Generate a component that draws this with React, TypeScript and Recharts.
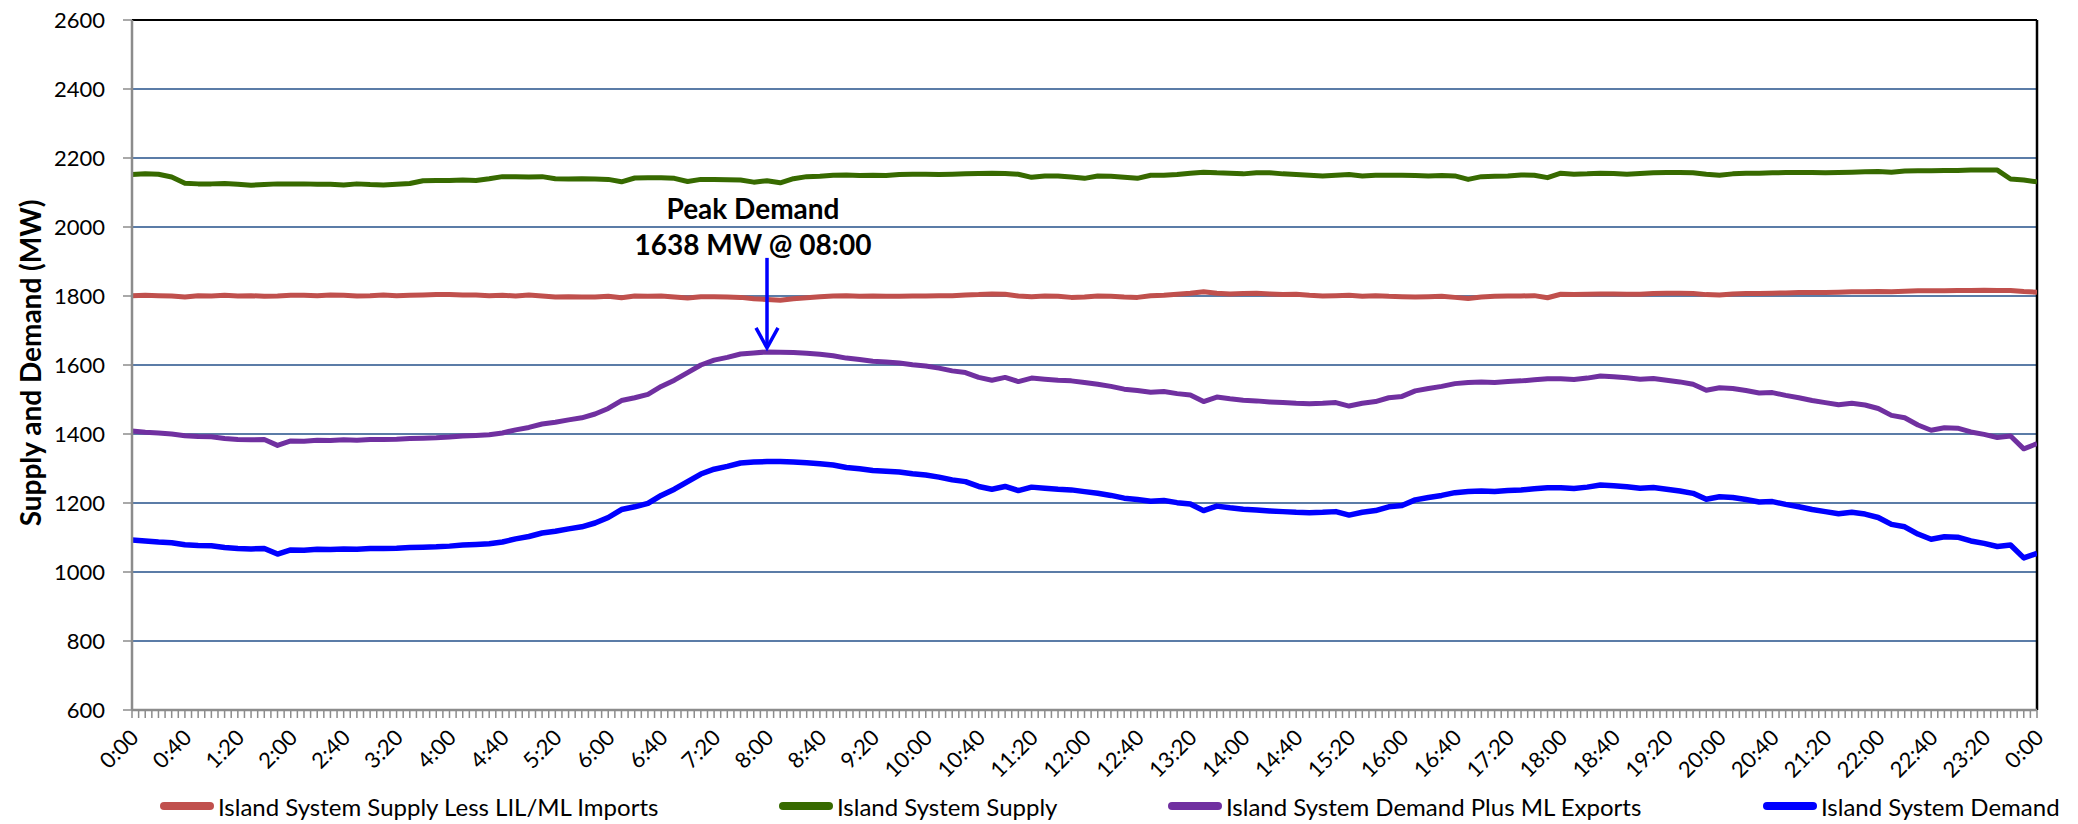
import React from 'react';
import {
  LineChart,
  Line,
  XAxis,
  YAxis,
  CartesianGrid,
  Legend,
  ReferenceLine,
  ReferenceDot,
} from 'recharts';

// ---------------- DATA ----------------
const times = [
  '0:00', '0:10', '0:20', '0:30', '0:40', '0:50', '1:00', '1:10', '1:20', '1:30', '1:40', '1:50',
  '2:00', '2:10', '2:20', '2:30', '2:40', '2:50', '3:00', '3:10', '3:20', '3:30', '3:40', '3:50',
  '4:00', '4:10', '4:20', '4:30', '4:40', '4:50', '5:00', '5:10', '5:20', '5:30', '5:40', '5:50',
  '6:00', '6:10', '6:20', '6:30', '6:40', '6:50', '7:00', '7:10', '7:20', '7:30', '7:40', '7:50',
  '8:00', '8:10', '8:20', '8:30', '8:40', '8:50', '9:00', '9:10', '9:20', '9:30', '9:40', '9:50',
  '10:00', '10:10', '10:20', '10:30', '10:40', '10:50', '11:00', '11:10', '11:20', '11:30', '11:40', '11:50',
  '12:00', '12:10', '12:20', '12:30', '12:40', '12:50', '13:00', '13:10', '13:20', '13:30', '13:40', '13:50',
  '14:00', '14:10', '14:20', '14:30', '14:40', '14:50', '15:00', '15:10', '15:20', '15:30', '15:40', '15:50',
  '16:00', '16:10', '16:20', '16:30', '16:40', '16:50', '17:00', '17:10', '17:20', '17:30', '17:40', '17:50',
  '18:00', '18:10', '18:20', '18:30', '18:40', '18:50', '19:00', '19:10', '19:20', '19:30', '19:40', '19:50',
  '20:00', '20:10', '20:20', '20:30', '20:40', '20:50', '21:00', '21:10', '21:20', '21:30', '21:40', '21:50',
  '22:00', '22:10', '22:20', '22:30', '22:40', '22:50', '23:00', '23:10', '23:20', '23:30', '23:40', '23:50',
  '24:00',
];

const supplyLessImports = [
  1801, 1802, 1801, 1800, 1797, 1801, 1800, 1802, 1800, 1801, 1799, 1800,
  1802, 1802, 1801, 1803, 1802, 1800, 1801, 1803, 1801, 1802, 1803, 1804,
  1804, 1803, 1803, 1801, 1802, 1800, 1803, 1800, 1797, 1798, 1797, 1797,
  1799, 1795, 1800, 1799, 1800, 1797, 1794, 1798, 1798, 1797, 1796, 1792,
  1790, 1788, 1792, 1795, 1798, 1800, 1801, 1799, 1800, 1799, 1799, 1800,
  1800, 1801, 1801, 1803, 1804, 1806, 1805, 1800, 1798, 1800, 1799, 1796,
  1797, 1800, 1799, 1797, 1796, 1801, 1802, 1805, 1808, 1812, 1808, 1806,
  1807, 1808, 1806, 1804, 1805, 1802, 1800, 1801, 1802, 1799, 1801, 1799,
  1798, 1797, 1798, 1799, 1796, 1793, 1797, 1799, 1800, 1800, 1801, 1795,
  1805, 1804, 1805, 1806, 1806, 1805, 1805, 1807, 1808, 1808, 1807, 1804,
  1803, 1806, 1807, 1807, 1808, 1809, 1810, 1810, 1810, 1811, 1812, 1812,
  1813, 1812, 1814, 1815, 1815, 1815, 1816, 1816, 1817, 1816, 1816, 1813,
  1811,
];

const islandSupply = [
  2152, 2154, 2153, 2145, 2127, 2125, 2125, 2126, 2124, 2121, 2123, 2125,
  2125, 2125, 2124, 2124, 2122, 2125, 2123, 2122, 2124, 2126, 2134, 2135,
  2135, 2136, 2135, 2140, 2146, 2146, 2145, 2146, 2140, 2139, 2140, 2139,
  2138, 2131, 2142, 2143, 2143, 2141, 2132, 2138, 2138, 2137, 2136, 2130,
  2134, 2128, 2140, 2146, 2147, 2150, 2151, 2149, 2150, 2149, 2152, 2153,
  2153, 2152, 2153, 2154, 2155, 2156, 2155, 2153, 2144, 2148, 2148, 2145,
  2141, 2148, 2147, 2144, 2141, 2150, 2150, 2152, 2156, 2159, 2157, 2156,
  2154, 2157, 2157, 2154, 2152, 2150, 2148, 2150, 2152, 2148, 2150, 2150,
  2150, 2149, 2148, 2149, 2148, 2138, 2146, 2147, 2148, 2151, 2150, 2143,
  2156, 2153, 2154, 2156, 2155, 2153, 2155, 2157, 2158, 2158, 2157, 2153,
  2150, 2154, 2156, 2156, 2157, 2158, 2158, 2158, 2157, 2158, 2159, 2160,
  2161, 2159, 2162, 2163, 2163, 2164, 2164, 2165, 2165, 2165, 2139, 2136,
  2131,
];

const demandPlusExports = [
  1409, 1405, 1403, 1400, 1395, 1393, 1392, 1387, 1384, 1383, 1384, 1367,
  1380, 1379, 1382, 1381, 1383, 1382, 1384, 1384, 1385, 1387, 1388, 1389,
  1391, 1394, 1396, 1398, 1403, 1412, 1419, 1429, 1434, 1441, 1447, 1458,
  1474, 1497, 1505, 1515, 1538, 1556, 1578, 1600, 1614, 1622, 1632, 1635,
  1638, 1637, 1636, 1634, 1631, 1627, 1620, 1616, 1611, 1609, 1606, 1601,
  1597, 1591, 1583, 1578, 1564, 1556, 1564, 1552, 1562, 1559, 1556, 1554,
  1549, 1544, 1538, 1530, 1526, 1521, 1523, 1517, 1513, 1494, 1507, 1502,
  1498, 1496, 1493, 1491, 1489, 1488, 1489, 1491, 1481, 1489, 1494, 1505,
  1509, 1525, 1532, 1538, 1546, 1549, 1551, 1549, 1552, 1554, 1557, 1560,
  1560, 1558, 1562, 1568, 1566, 1563, 1559, 1561, 1556, 1551, 1544, 1527,
  1534, 1532, 1526, 1519, 1520, 1512, 1505, 1497, 1491, 1485, 1489, 1484,
  1474, 1454, 1447, 1426, 1411, 1418, 1417, 1406, 1399, 1390, 1394, 1357,
  1372,
];

const islandDemand = [
  1093, 1090, 1087, 1085, 1079, 1077, 1076, 1071, 1068, 1067, 1068, 1052,
  1064, 1063, 1066, 1065, 1067, 1066, 1068, 1068, 1069, 1071, 1072, 1073,
  1075, 1078, 1080, 1082, 1087, 1096, 1103, 1113, 1118, 1125, 1131, 1142,
  1158, 1181, 1189, 1199, 1222, 1240, 1262, 1284, 1298, 1306, 1316, 1319,
  1320, 1320, 1319, 1317, 1314, 1310, 1303, 1299, 1294, 1292, 1290, 1285,
  1281, 1275, 1267, 1262, 1248, 1240, 1248, 1236, 1246, 1243, 1240, 1238,
  1233, 1228, 1222, 1214, 1210, 1205, 1207, 1201, 1197, 1178, 1191, 1186,
  1182, 1180, 1177, 1175, 1173, 1172, 1173, 1175, 1165, 1173, 1178, 1189,
  1193, 1209, 1216, 1222, 1230, 1233, 1235, 1233, 1236, 1238, 1241, 1244,
  1244, 1242, 1246, 1252, 1250, 1247, 1243, 1245, 1240, 1235, 1228, 1211,
  1218, 1216, 1210, 1203, 1204, 1196, 1189, 1181, 1175, 1169, 1173, 1168,
  1158, 1138, 1131, 1110, 1095, 1102, 1101, 1090, 1083, 1074, 1078, 1041,
  1054,
];

const xTickLabels = [
  '0:00', '0:40', '1:20', '2:00', '2:40', '3:20', '4:00', '4:40', '5:20', '6:00',
  '6:40', '7:20', '8:00', '8:40', '9:20', '10:00', '10:40', '11:20', '12:00', '12:40',
  '13:20', '14:00', '14:40', '15:20', '16:00', '16:40', '17:20', '18:00', '18:40', '19:20',
  '20:00', '20:40', '21:20', '22:00', '22:40', '23:20', '0:00',
];

const yTicks = [600, 800, 1000, 1200, 1400, 1600, 1800, 2000, 2200, 2400, 2600];

const seriesNames = [
  'Island System Supply Less LIL/ML Imports',
  'Island System Supply',
  'Island System Demand Plus ML Exports',
  'Island System Demand',
];

const yAxisTitle = 'Supply and Demand (MW)';
const peakTitle = 'Peak Demand';

// ---------------- HELPERS ----------------
const FONT = 'Lato, "Noto Sans", "DejaVu Sans", sans-serif';
const COLORS = ['#C0504D', '#376A00', '#7030A0', '#0000FF'];
const KEYS = ['supplyLess', 'supply', 'demandPlus', 'demand'];

const toMinutes = (t: string) => {
  const [h, m] = t.split(':').map(Number);
  return h * 60 + m;
};

const data = times.map((t, i) => ({
  time: toMinutes(t),
  supplyLess: supplyLessImports[i],
  supply: islandSupply[i],
  demandPlus: demandPlusExports[i],
  demand: islandDemand[i],
}));

// peak of demand-plus-exports series
let peakIdx = 0;
demandPlusExports.forEach((v, i) => {
  if (v > demandPlusExports[peakIdx]) peakIdx = i;
});
const peakTime = toMinutes(times[peakIdx]);
const peakValue = demandPlusExports[peakIdx];
const fmtHHMM = (t: string) => {
  const [h, m] = t.split(':');
  return `${h.padStart(2, '0')}:${m}`;
};
const peakLabel = `${peakValue} MW @ ${fmtHHMM(times[peakIdx])}`;

const minorTicks = Array.from({ length: 1440 / 5 + 1 }, (_, i) => i * 5);

const XTick = (props: any) => {
  const { x, y, payload } = props;
  const v = payload.value;
  if (v % 40 !== 0) return <g />;
  const label = xTickLabels[v / 40];
  const ax = x + 8;
  const ay = y + 19;
  return (
    <text
      x={ax}
      y={ay}
      transform={`rotate(-45, ${ax}, ${ay})`}
      textAnchor="end"
      fontSize={22}
      fontFamily={FONT}
      fill="#000"
    >
      {label}
    </text>
  );
};

const legendX = [160, 779, 1168, 1763];

const renderLegend = () => (
  <svg width={2078} height={30} style={{ display: 'block' }}>
    {seriesNames.map((name, i) => (
      <g key={name}>
        <line
          x1={legendX[i] + 4}
          x2={legendX[i] + 50}
          y1={15}
          y2={15}
          stroke={COLORS[i]}
          strokeWidth={8}
          strokeLinecap="round"
        />
        <text
          x={legendX[i] + 58}
          y={15}
          dominantBaseline="central"
          fontSize={24}
          fontFamily={FONT}
          fill="#000"
        >
          {name}
        </text>
      </g>
    ))}
  </svg>
);

const YTitle = (props: any) => {
  const { viewBox } = props;
  const cx = 30;
  const cy = viewBox.y + viewBox.height / 2 - 2;
  return (
    <text
      x={cx}
      y={cy}
      transform={`rotate(-90, ${cx}, ${cy})`}
      textAnchor="middle"
      dominantBaseline="central"
      fontSize={28}
      fontWeight="bold"
      fontFamily={FONT}
      fill="#000"
    >
      {yAxisTitle}
    </text>
  );
};

const PeakAnnotation = (props: any) => {
  const { cx, cy } = props;
  const tipY = cy - 4;
  const tx = cx - 14;
  return (
    <g>
      <line x1={cx} x2={cx} y1={cy - 94} y2={tipY - 1} stroke="#0000FF" strokeWidth={3.5} />
      <polyline
        points={`${cx - 11},${tipY - 20} ${cx},${tipY} ${cx + 11},${tipY - 20}`}
        fill="none"
        stroke="#0000FF"
        strokeWidth={3.5}
      />
      <text
        x={tx}
        y={cy - 144}
        textAnchor="middle"
        dominantBaseline="central"
        fontSize={28}
        fontWeight="bold"
        fontFamily={FONT}
        fill="#000"
      >
        {peakTitle}
      </text>
      <text
        x={tx}
        y={cy - 108}
        textAnchor="middle"
        dominantBaseline="central"
        fontSize={28}
        fontWeight="bold"
        fontFamily={FONT}
        fill="#000"
      >
        {peakLabel}
      </text>
    </g>
  );
};

export default function App() {
  return (
    <div
      style={{
        position: 'absolute',
        left: 0,
        top: 0,
        width: 2078,
        height: 824,
        background: '#fff',
        fontFamily: FONT,
      }}
    >
      <LineChart
        width={2078}
        height={824}
        data={data}
        margin={{ top: 20, right: 41, left: 0, bottom: 3 }}
      >
        <CartesianGrid vertical={false} stroke="#24508A" strokeWidth={1.5} />
        <XAxis
          type="number"
          dataKey="time"
          domain={[0, 1440]}
          ticks={minorTicks}
          interval={0}
          tick={<XTick />}
          tickSize={8}
          tickLine={{ stroke: '#8C8C8C', strokeWidth: 1.5 }}
          axisLine={{ stroke: '#8C8C8C', strokeWidth: 2.5 }}
          height={81}
          allowDataOverflow
        />
        <YAxis
          type="number"
          domain={[600, 2600]}
          ticks={yTicks}
          interval={0}
          width={132}
          tickSize={9}
          tickMargin={18}
          tick={{ fontSize: 22, fill: '#000', fontFamily: FONT }}
          tickLine={{ stroke: '#8C8C8C', strokeWidth: 1.5 }}
          axisLine={{ stroke: '#8C8C8C', strokeWidth: 2.5 }}
          allowDataOverflow
          label={<YTitle />}
        />
        <ReferenceLine y={2600} stroke="#000" strokeWidth={2} />
        <ReferenceLine x={1440} stroke="#000" strokeWidth={2.5} />
        {KEYS.map((k, i) => (
          <Line
            key={k}
            type="linear"
            dataKey={k}
            name={seriesNames[i]}
            stroke={COLORS[i]}
            strokeWidth={i === 3 ? 5.5 : 5}
            strokeLinejoin="round"
            dot={false}
            activeDot={false}
            isAnimationActive={false}
          />
        ))}
        <ReferenceDot
          x={peakTime}
          y={peakValue}
          r={0}
          ifOverflow="visible"
          shape={(p: any) => <PeakAnnotation {...p} />}
        />
        <Legend
          verticalAlign="bottom"
          height={30}
          content={renderLegend}
          wrapperStyle={{ left: 0, width: 2078, height: 30 }}
        />
      </LineChart>
    </div>
  );
}
